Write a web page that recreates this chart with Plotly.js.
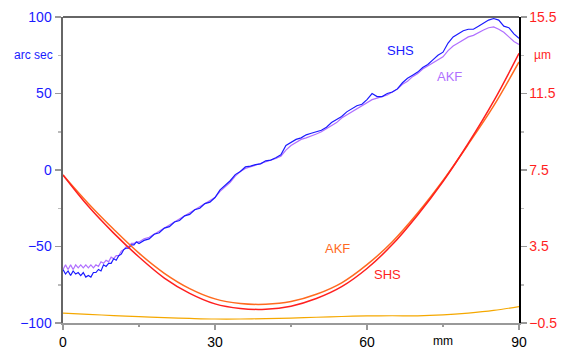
<!DOCTYPE html>
<html><head><meta charset="utf-8">
<script src="https://cdn.plot.ly/plotly-3.0.1.min.js"></script>
<style>html,body{margin:0;padding:0;background:#fff}#c{width:570px;height:351px}</style>
</head><body><div id="c"></div>
<script>
// x positions (mm) for the angle series
const xAngle = [0,0.5,1,1.5,2,2.5,3,3.5,4,4.5,5,5.5,6,6.5,7,7.5,8,8.5,9,9.5,10,10.5,11,11.5,12,12.5,13,13.5,14,14.5,15,16,17,18,19,20,21,22,23,24,25,26,27,28,29,30,31,32,33,34,35,36,37,38,39,40,41,42,43,44,45,46,47,48,49,50,51,52,53,54,55,56,57,58,59,60,61,62,63,64,65,66,67,68,69,70,71,72,73,74,75,76,77,78,79,80,81,82,83,84,85,86,87,88,89,90];
// angle (arc sec), SHS
const shsAngle = [-65,-68,-66,-69,-66,-68,-67,-69,-67,-70,-69,-70,-67,-67,-65,-66,-62,-63,-61,-61,-58,-59,-56,-55,-52,-51,-51,-49,-49,-47,-48,-46,-45,-42,-41,-38,-37,-34,-33,-30,-29,-26,-25,-22,-21,-18,-13,-10,-7,-3,-1,2,2.5,3.5,4,6,6.5,8,10,16,18,20,21,23,24,25,26,28,31,33,35,38,40,42,43,46,50,48,48,50,51,53,57,60,62,64,67,69,72,75,77,83,87,89,91,92,92,94,96,98,99,98,94,93,89,86];
// angle (arc sec), AKF
const akfAngle = [-65,-62,-65,-62,-65,-62,-64,-62,-64,-62,-64,-62,-64,-62,-63,-60,-61,-59,-60,-57,-58,-56,-56,-53,-52,-50,-50,-48,-48,-47,-47,-45,-44,-42,-40,-38,-36,-34,-32,-30,-28,-26,-24,-22,-20,-18,-14,-11,-8,-4,-1,1,2,3,4,5,6,7.5,9,13,16,18,20,21,22,23.5,25,27,29,31,34,36,38,40,42,44,46,47,48,49,51,53,56,58,61,63,66,68,70,72,74,78,81,83,85,87,88,90,91.5,93,93.5,92,90,87,84,82];
// x positions (mm) for the profile series, 5 mm steps
const xProfile = [0,5,10,15,20,25,30,35,40,45,50,55,60,65,70,75,80,85,90];
// profile (µm), SHS
const shsProfile = [7.24,5.6,4.2,2.95,1.85,1.05,0.5,0.26,0.22,0.38,0.78,1.4,2.35,3.6,5.15,6.9,8.9,11.1,13.6];
// profile (µm), AKF
const akfProfile = [7.24,5.75,4.4,3.15,2.1,1.3,0.76,0.52,0.48,0.62,1.0,1.6,2.55,3.75,5.25,6.95,8.85,10.85,13.15];
// difference (µm)
const diffProfile = [0.02,-0.05,-0.11,-0.17,-0.22,-0.26,-0.29,-0.29,-0.27,-0.24,-0.2,-0.16,-0.13,-0.12,-0.13,-0.08,0.02,0.16,0.36];

const leftTicks = [-100,-50,0,50,100];
const rightTicks = [-0.5,3.5,7.5,11.5,15.5];
const xTicks = [0,30,60,90];

const F = 'Liberation Sans, Arial, sans-serif';
const traces = [
  {x:xProfile,y:diffProfile,yaxis:'y2',mode:'lines',line:{color:'#f5a800',width:1.2,shape:'spline'},hoverinfo:'skip'},
  {x:xProfile,y:akfProfile,yaxis:'y2',mode:'lines',line:{color:'#ff6a1f',width:1.5,shape:'spline'},hoverinfo:'skip'},
  {x:xProfile,y:shsProfile,yaxis:'y2',mode:'lines',line:{color:'#ff1f1f',width:1.5,shape:'spline'},hoverinfo:'skip'},
  {x:xAngle,y:akfAngle,mode:'lines',line:{color:'#b070ff',width:1.2},hoverinfo:'skip'},
  {x:xAngle,y:shsAngle,mode:'lines',line:{color:'#1a1aff',width:1.2},hoverinfo:'skip'}
];
const layout = {
  width:570,height:351,
  margin:{l:63,r:51,t:17,b:28},
  paper_bgcolor:'#fff',plot_bgcolor:'#fff',
  showlegend:false,
  font:{family:F},
  xaxis:{range:[0,90],tickvals:xTicks,ticks:'outside',ticklen:5,tickcolor:'#999',tickwidth:1.5,
    showline:true,linecolor:'#999',linewidth:2,showgrid:false,zeroline:false,
    tickfont:{size:14,color:'#000',family:F},
    minor:{dtick:15,tick0:0,ticks:'outside',ticklen:2,tickcolor:'#999'}},
  yaxis:{range:[-100,100],tickvals:leftTicks,ticks:'outside',ticklen:6,tickcolor:'#999',tickwidth:1.5,
    showline:true,linecolor:'#666',linewidth:2.5,showgrid:false,zeroline:false,
    tickfont:{size:14,color:'#1a1aff',family:F},
    minor:{dtick:25,tick0:0,ticks:'outside',ticklen:3,tickcolor:'#bbb'}},
  yaxis2:{range:[-0.5,15.5],overlaying:'y',side:'right',tickvals:rightTicks,ticks:'outside',ticklen:6,tickcolor:'#999',tickwidth:1.5,
    showline:true,linecolor:'#000',linewidth:1.5,showgrid:false,zeroline:false,
    tickfont:{size:14,color:'#ff1f1f',family:F},
    minor:{dtick:2,tick0:-0.5,ticks:'outside',ticklen:3,tickcolor:'#bbb'}},
  shapes:[{type:'line',xref:'paper',yref:'paper',x0:0,x1:1,y0:1,y1:1,line:{color:'#333',width:1.5}}],
  annotations:[
    {xref:'paper',yref:'paper',x:-0.017,y:0.876,text:'arc sec',showarrow:false,xanchor:'right',yanchor:'middle',font:{size:12,color:'#1a1aff',family:F}},
    {xref:'paper',yref:'paper',x:1.028,y:0.876,text:'µm',showarrow:false,xanchor:'left',yanchor:'middle',font:{size:12,color:'#ff1f1f',family:F}},
    {xref:'paper',yref:'paper',x:0.833,y:-0.058,text:'mm',showarrow:false,xanchor:'center',yanchor:'middle',font:{size:12,color:'#000',family:F}},
    {xref:'x',yref:'y',x:66.7,y:77.8,text:'SHS',showarrow:false,font:{size:13,color:'#1a1aff',family:F}},
    {xref:'x',yref:'y',x:76.2,y:61.4,text:'AKF',showarrow:false,font:{size:13,color:'#b070ff',family:F}},
    {xref:'x',yref:'y2',x:54.1,y:3.42,text:'AKF',showarrow:false,font:{size:13,color:'#ff6a1f',family:F}},
    {xref:'x',yref:'y2',x:64.1,y:2.06,text:'SHS',showarrow:false,font:{size:13,color:'#ff1f1f',family:F}}
  ]
};
Plotly.newPlot('c',traces,layout,{staticPlot:true,displayModeBar:false});
</script></body></html>
